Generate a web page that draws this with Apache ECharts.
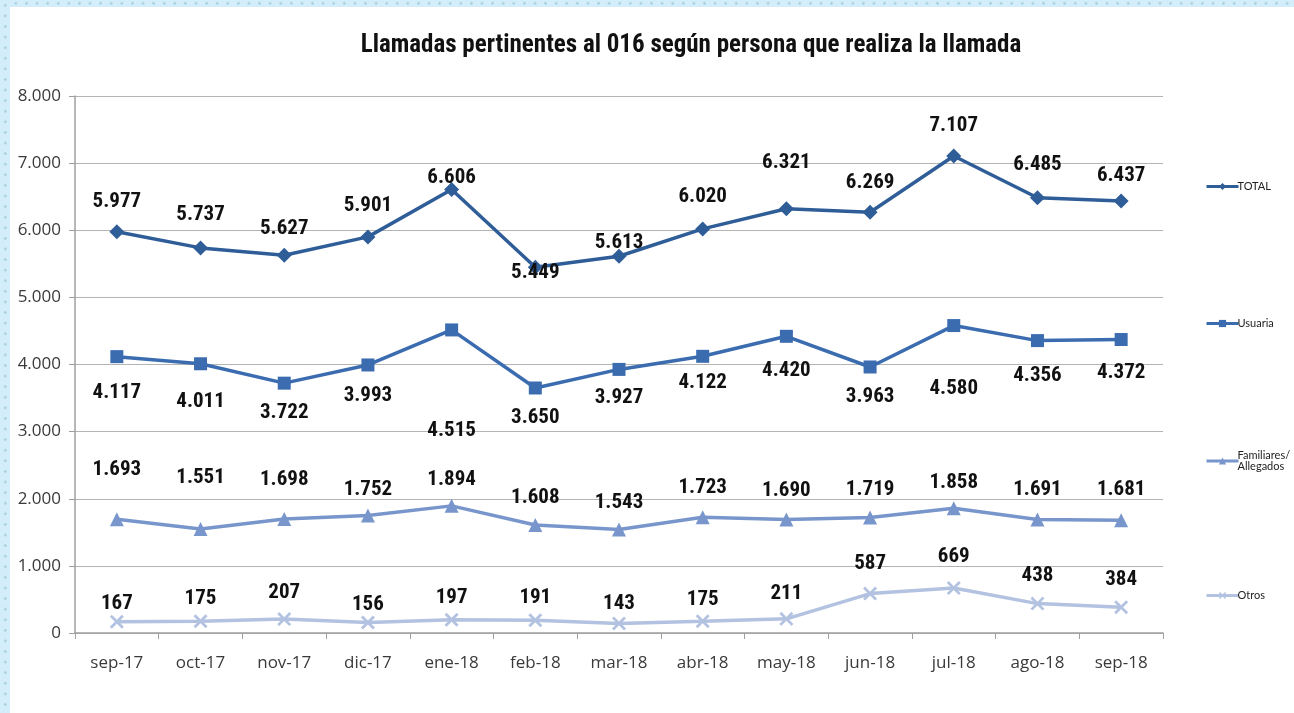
<!DOCTYPE html>
<html>
<head>
<meta charset="utf-8">
<script src="https://cdn.jsdelivr.net/npm/echarts@6/dist/echarts.min.js"></script>
<style>
html,body{margin:0;padding:0;background:#fff;}
#chart{position:absolute;left:0;top:0;width:1294px;height:713px;}
.band{position:absolute;background-color:#d3eefa;pointer-events:none;
  background-image:radial-gradient(circle,#a9cfe0 1px,transparent 1.6px);background-size:10.6px 10.6px;}
#bt{left:0;top:0;width:1294px;height:7px;background-position:0 -2px;}
#bl{left:0;top:0;width:10px;height:713px;background-position:0 0;}
</style>
</head>
<body>
<div id="chart"></div>
<div class="band" id="bt"></div>
<div class="band" id="bl"></div>
<script>
const categories = ['sep-17','oct-17','nov-17','dic-17','ene-18','feb-18','mar-18','abr-18','may-18','jun-18','jul-18','ago-18','sep-18'];
const totalValues = [5977,5737,5627,5901,6606,5449,5613,6020,6321,6269,7107,6485,6437];
const usuariaValues = [4117,4011,3722,3993,4515,3650,3927,4122,4420,3963,4580,4356,4372];
const familiaresValues = [1693,1551,1698,1752,1894,1608,1543,1723,1690,1719,1858,1691,1681];
const otrosValues = [167,175,207,156,197,191,143,175,211,587,669,438,384];
const yTicks = [0,1000,2000,3000,4000,5000,6000,7000,8000];

// label vertical offsets (px, positive = above point) — styling only
const totalLift = [30,33,27,31,12,-6,13,32,46,29,30,33,25];
const usuariaLift = [-36,-38,-30,-31,-101,-30,-28,-26,-34,-30,-63,-35,-33];
const familiaresLift = [50,51,39,26,26,27,27,30,29,28,26,30,30];
const otrosLift = [18,23,26,18,22,22,20,22,25,30,31,28,27];

const fmt = v => String(v).replace(/\B(?=(\d{3})+(?!\d))/g, '.');
const labelFont = '"Liberation Sans Narrow","Roboto Condensed","Liberation Sans",sans-serif';
const axisFont = '"Open Sans","Lato",sans-serif';

function mkData(vals, lifts){
  return vals.map((v,i)=>({value:v,label:{offset:[0,-lifts[i]]}}));
}
const xSym = 'path://M0,1.4L1.4,0L5,3.6L8.6,0L10,1.4L6.4,5L10,8.6L8.6,10L5,6.4L1.4,10L0,8.6L3.6,5Z';

function mkSeries(name, vals, lifts, color, symbol, size){
  return {
    name: name, type:'line', data: mkData(vals, lifts),
    symbol: symbol, symbolSize: size,
    lineStyle:{color:color,width:3.5},
    itemStyle:{color:color},
    label:{show:true,position:'inside',formatter:p=>fmt(p.value),
      fontFamily:labelFont,fontWeight:'bold',fontSize:21,color:'#111'},
    emphasis:{disabled:true},
    z: 3
  };
}
const cTotal='#2f5d97', cUsu='#3b6cb0', cFam='#7896cc', cOtr='#b2c2e0';

const legendBase = {orient:'vertical',left:1200,itemWidth:32,itemHeight:9,itemGap:0,
  lineStyle:{width:3},
  textStyle:{fontFamily:'"Lato","Open Sans",sans-serif',fontSize:11,color:'#222',padding:[0,0,0,-6]},
  selectedMode:false};

const chart = echarts.init(document.getElementById('chart'),null,{renderer:'canvas'});
chart.setOption({
  animation:false,
  backgroundColor:'#fff',
  title:{text:'Llamadas pertinentes al 016 según persona que realiza la llamada',
    left:686, top:28, textAlign:'center',
    textStyle:{fontFamily:labelFont,fontWeight:'bold',fontSize:25,color:'#111'}},
  legend:[
    Object.assign({},legendBase,{top:176,data:['TOTAL']}),
    Object.assign({},legendBase,{top:313,data:['Usuaria']}),
    Object.assign({},legendBase,{top:445,data:['Familiares/Allegados'],formatter:n=>'Familiares/\nAllegados'}),
    Object.assign({},legendBase,{top:585,data:['Otros']})
  ],
  grid:{left:75,right:131,top:96,bottom:80},
  xAxis:{type:'category',data:categories,boundaryGap:true,
    axisLine:{lineStyle:{color:'#a0a0a0',width:1.5}},
    axisTick:{show:true,length:6,lineStyle:{color:'#a0a0a0'}},
    axisLabel:{fontFamily:axisFont,fontSize:17,color:'#3a3a3a',margin:22}},
  yAxis:{type:'value',min:0,max:8000,interval:1000,
    axisLine:{show:true,lineStyle:{color:'#a0a0a0',width:1.5}},
    axisTick:{show:true,length:6,lineStyle:{color:'#a0a0a0'}},
    splitLine:{lineStyle:{color:'#b4b4b4',width:1}},
    axisLabel:{fontFamily:axisFont,fontSize:17,color:'#3a3a3a',margin:14,
      formatter:v=>yTicks.includes(v)?fmt(v):''}},
  series:[
    mkSeries('TOTAL',totalValues,totalLift,cTotal,'diamond',15),
    mkSeries('Usuaria',usuariaValues,usuariaLift,cUsu,'rect',13),
    mkSeries('Familiares/Allegados',familiaresValues,familiaresLift,cFam,'triangle',14),
    mkSeries('Otros',otrosValues,otrosLift,cOtr,xSym,14)
  ]
});
</script>
</body>
</html>
